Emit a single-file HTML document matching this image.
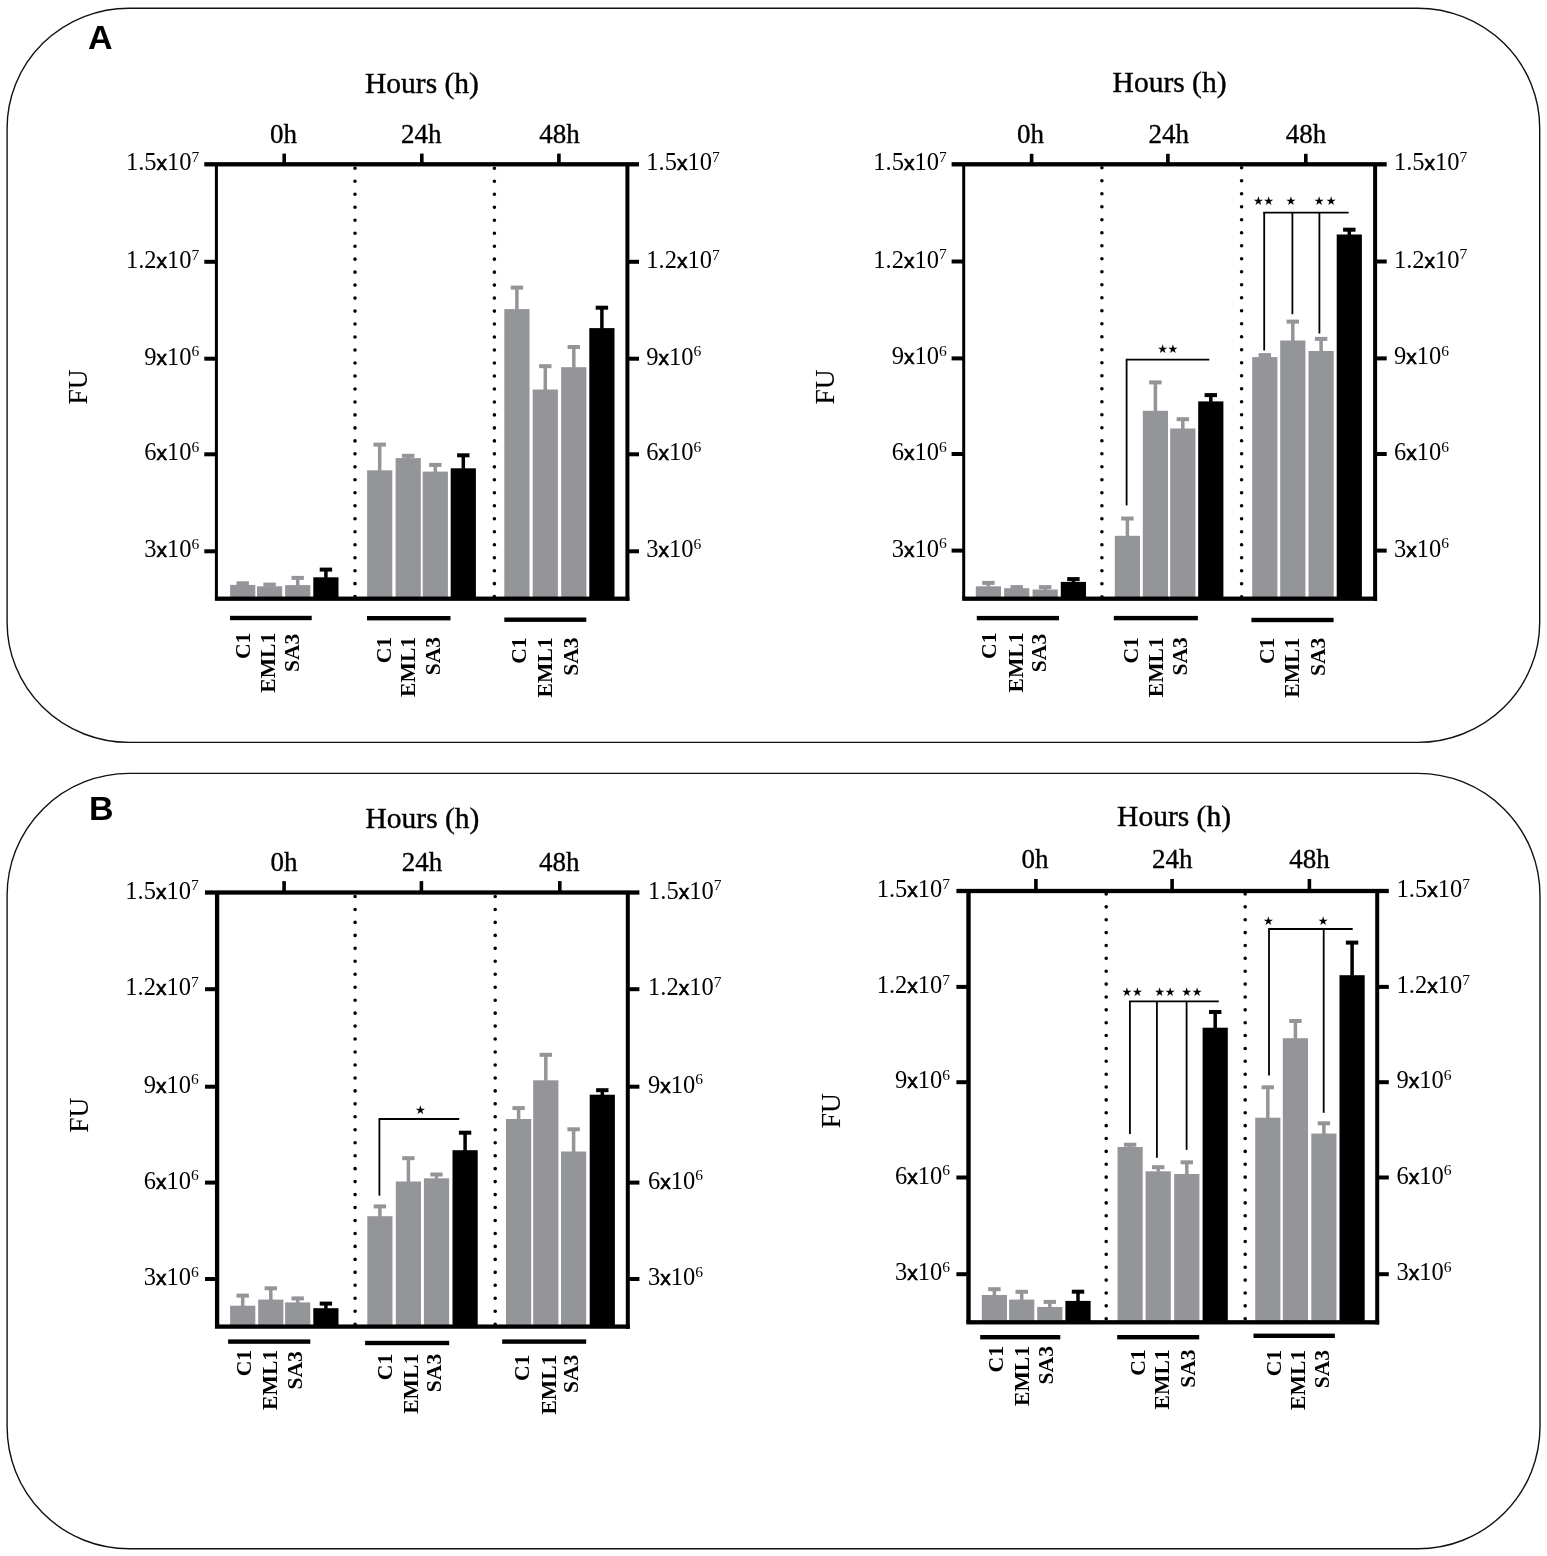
<!DOCTYPE html>
<html><head><meta charset="utf-8"><title>Figure</title><style>
html,body{margin:0;padding:0;background:#fff;}
body{width:1547px;height:1556px;overflow:hidden;}
svg{display:block;}
.tk{font-family:'Liberation Serif', 'Times New Roman', serif;font-size:24.5px;fill:#000;}
.xx{font-family:'Liberation Sans',Arial,sans-serif;font-size:21px;stroke:#000;stroke-width:0.6px;}
.hh{font-family:'Liberation Serif', 'Times New Roman', serif;font-size:27px;fill:#000;stroke:#000;stroke-width:0.35px;}
.ho{font-family:'Liberation Serif', 'Times New Roman', serif;font-size:29.5px;fill:#000;stroke:#000;stroke-width:0.4px;}
.fu{font-family:'Liberation Serif', 'Times New Roman', serif;font-size:27.5px;fill:#000;stroke:#000;stroke-width:0.1px;}
.gl{font-family:'Liberation Serif', 'Times New Roman', serif;font-size:21.6px;font-weight:bold;fill:#000;}
.pl{font-family:'Liberation Sans', Arial, sans-serif;font-size:34px;font-weight:bold;fill:#000;}
.st{font-family:'DejaVu Sans', sans-serif;font-size:12.0px;fill:#000;letter-spacing:0px;}
</style></head>
<body><svg width="1547" height="1556" viewBox="0 0 1547 1556">
<rect width="1547" height="1556" fill="#fff"/>
<rect x="7.1" y="8.2" width="1532.6" height="734.2" rx="122" ry="120" fill="none" stroke="#111" stroke-width="1.4"/>
<rect x="7.1" y="773.4" width="1532.9" height="775.4" rx="122" ry="122" fill="none" stroke="#111" stroke-width="1.4"/>
<text x="88" y="48.9" class="pl">A</text>
<text x="89" y="819.7" class="pl">B</text>
<line x1="355" y1="164.3" x2="355" y2="598.7" stroke="#000" stroke-width="3.6" stroke-linecap="round" stroke-dasharray="0 12.98" stroke-dashoffset="-4"/>
<line x1="494.4" y1="164.3" x2="494.4" y2="598.7" stroke="#000" stroke-width="3.6" stroke-linecap="round" stroke-dasharray="0 12.98" stroke-dashoffset="-4"/>
<rect x="230.1" y="584.9" width="25.2" height="13.8" fill="#949599"/>
<rect x="240.95" y="583.3" width="3.5" height="2.1" fill="#949599"/>
<rect x="236.5" y="581.3" width="12.4" height="4" fill="#949599"/>
<rect x="257" y="586.3" width="25.2" height="12.4" fill="#949599"/>
<rect x="267.85" y="584.6" width="3.5" height="2.2" fill="#949599"/>
<rect x="263.4" y="582.6" width="12.4" height="4" fill="#949599"/>
<rect x="285.1" y="585.1" width="25.2" height="13.6" fill="#949599"/>
<rect x="295.95" y="577.9" width="3.5" height="7.7" fill="#949599"/>
<rect x="291.5" y="575.9" width="12.4" height="4" fill="#949599"/>
<rect x="313.3" y="577.3" width="25.2" height="21.4" fill="#000"/>
<rect x="324.15" y="569.6" width="3.5" height="8.2" fill="#000"/>
<rect x="319.7" y="567.6" width="12.4" height="4" fill="#000"/>
<rect x="367.1" y="470.3" width="25.2" height="128.4" fill="#949599"/>
<rect x="377.95" y="444.6" width="3.5" height="26.2" fill="#949599"/>
<rect x="373.5" y="442.6" width="12.4" height="4" fill="#949599"/>
<rect x="395.6" y="458.1" width="25.2" height="140.6" fill="#949599"/>
<rect x="406.45" y="455.8" width="3.5" height="2.8" fill="#949599"/>
<rect x="402" y="453.8" width="12.4" height="4" fill="#949599"/>
<rect x="422.7" y="471.6" width="25.2" height="127.1" fill="#949599"/>
<rect x="433.55" y="464.9" width="3.5" height="7.2" fill="#949599"/>
<rect x="429.1" y="462.9" width="12.4" height="4" fill="#949599"/>
<rect x="450.7" y="468.3" width="25.2" height="130.4" fill="#000"/>
<rect x="461.55" y="455.3" width="3.5" height="13.5" fill="#000"/>
<rect x="457.1" y="453.3" width="12.4" height="4" fill="#000"/>
<rect x="504.3" y="309.1" width="25.2" height="289.6" fill="#949599"/>
<rect x="515.15" y="287.6" width="3.5" height="22" fill="#949599"/>
<rect x="510.7" y="285.6" width="12.4" height="4" fill="#949599"/>
<rect x="532.7" y="389.5" width="25.2" height="209.2" fill="#949599"/>
<rect x="543.55" y="366.2" width="3.5" height="23.8" fill="#949599"/>
<rect x="539.1" y="364.2" width="12.4" height="4" fill="#949599"/>
<rect x="561.2" y="367.2" width="25.2" height="231.5" fill="#949599"/>
<rect x="572.05" y="347" width="3.5" height="20.7" fill="#949599"/>
<rect x="567.6" y="345" width="12.4" height="4" fill="#949599"/>
<rect x="589.3" y="328.1" width="25.2" height="270.6" fill="#000"/>
<rect x="600.15" y="307.7" width="3.5" height="20.9" fill="#000"/>
<rect x="595.7" y="305.7" width="12.4" height="4" fill="#000"/>
<rect x="204.3" y="162.15" width="434.7" height="4.3" fill="#000"/>
<rect x="214.9" y="596.55" width="414.5" height="4.3" fill="#000"/>
<rect x="214.9" y="164.3" width="3" height="434.4" fill="#000"/>
<rect x="625.4" y="164.3" width="4" height="436.55" fill="#000"/>
<rect x="204.3" y="259.8" width="12.1" height="4" fill="#000"/>
<rect x="627.4" y="259.8" width="11.6" height="4" fill="#000"/>
<rect x="204.3" y="356.7" width="12.1" height="4" fill="#000"/>
<rect x="627.4" y="356.7" width="11.6" height="4" fill="#000"/>
<rect x="204.3" y="452.3" width="12.1" height="4" fill="#000"/>
<rect x="627.4" y="452.3" width="11.6" height="4" fill="#000"/>
<rect x="204.3" y="549.3" width="12.1" height="4" fill="#000"/>
<rect x="627.4" y="549.3" width="11.6" height="4" fill="#000"/>
<rect x="282.4" y="153.6" width="3.6" height="10.7" fill="#000"/>
<rect x="420" y="153.6" width="3.6" height="10.7" fill="#000"/>
<rect x="557.1" y="153.6" width="3.6" height="10.7" fill="#000"/>
<text transform="translate(199.3 170.1) scale(1 1)" text-anchor="end" class="tk">1.5<tspan class="xx">x</tspan>10<tspan dy="-8.3" font-size="15.5">7</tspan></text>
<text transform="translate(646.3 170.1) scale(1 1)" class="tk">1.5<tspan class="xx">x</tspan>10<tspan dy="-8.3" font-size="15.5">7</tspan></text>
<text transform="translate(199.3 267.8) scale(1 1)" text-anchor="end" class="tk">1.2<tspan class="xx">x</tspan>10<tspan dy="-8.3" font-size="15.5">7</tspan></text>
<text transform="translate(646.3 267.8) scale(1 1)" class="tk">1.2<tspan class="xx">x</tspan>10<tspan dy="-8.3" font-size="15.5">7</tspan></text>
<text transform="translate(199.3 364.7) scale(1 1)" text-anchor="end" class="tk">9<tspan class="xx">x</tspan>10<tspan dy="-8.3" font-size="15.5">6</tspan></text>
<text transform="translate(646.3 364.7) scale(1 1)" class="tk">9<tspan class="xx">x</tspan>10<tspan dy="-8.3" font-size="15.5">6</tspan></text>
<text transform="translate(199.3 460.3) scale(1 1)" text-anchor="end" class="tk">6<tspan class="xx">x</tspan>10<tspan dy="-8.3" font-size="15.5">6</tspan></text>
<text transform="translate(646.3 460.3) scale(1 1)" class="tk">6<tspan class="xx">x</tspan>10<tspan dy="-8.3" font-size="15.5">6</tspan></text>
<text transform="translate(199.3 557.3) scale(1 1)" text-anchor="end" class="tk">3<tspan class="xx">x</tspan>10<tspan dy="-8.3" font-size="15.5">6</tspan></text>
<text transform="translate(646.3 557.3) scale(1 1)" class="tk">3<tspan class="xx">x</tspan>10<tspan dy="-8.3" font-size="15.5">6</tspan></text>
<text x="283.4" y="143" text-anchor="middle" class="hh">0h</text>
<text x="421.3" y="143" text-anchor="middle" class="hh">24h</text>
<text x="559.4" y="143" text-anchor="middle" class="hh">48h</text>
<text x="365" y="92.5" class="ho">Hours (h)</text>
<text x="86.7" y="387" text-anchor="middle" class="fu" transform="rotate(-90 86.7 387)">FU</text>
<rect x="230" y="615.8" width="81.7" height="4.4" fill="#000"/>
<rect x="367" y="616" width="83.5" height="4.4" fill="#000"/>
<rect x="504.3" y="617.5" width="82" height="4.4" fill="#000"/>
<text x="249.6" y="632.7" text-anchor="end" class="gl" transform="rotate(-90 249.6 632.7)">C1</text>
<text x="274.7" y="632.7" text-anchor="end" class="gl" transform="rotate(-90 274.7 632.7)">EML1</text>
<text x="298.8" y="633.7" text-anchor="end" class="gl" transform="rotate(-90 298.8 633.7)">SA3</text>
<text x="391.2" y="636.9" text-anchor="end" class="gl" transform="rotate(-90 391.2 636.9)">C1</text>
<text x="415.4" y="636.9" text-anchor="end" class="gl" transform="rotate(-90 415.4 636.9)">EML1</text>
<text x="440.5" y="636.9" text-anchor="end" class="gl" transform="rotate(-90 440.5 636.9)">SA3</text>
<text x="526.5" y="637.4" text-anchor="end" class="gl" transform="rotate(-90 526.5 637.4)">C1</text>
<text x="552.3" y="637.4" text-anchor="end" class="gl" transform="rotate(-90 552.3 637.4)">EML1</text>
<text x="577.9" y="637.4" text-anchor="end" class="gl" transform="rotate(-90 577.9 637.4)">SA3</text>
<line x1="1101.9" y1="164.3" x2="1101.9" y2="598.7" stroke="#000" stroke-width="3.6" stroke-linecap="round" stroke-dasharray="0 13" stroke-dashoffset="-3.4"/>
<line x1="1241.6" y1="164.3" x2="1241.6" y2="598.7" stroke="#000" stroke-width="3.6" stroke-linecap="round" stroke-dasharray="0 13" stroke-dashoffset="-3.4"/>
<rect x="975.8" y="586.3" width="25.2" height="12.4" fill="#949599"/>
<rect x="986.65" y="582.9" width="3.5" height="3.9" fill="#949599"/>
<rect x="982.2" y="580.9" width="12.4" height="4" fill="#949599"/>
<rect x="1004.1" y="588.2" width="25.2" height="10.5" fill="#949599"/>
<rect x="1014.95" y="587.1" width="3.5" height="1.6" fill="#949599"/>
<rect x="1010.5" y="585.1" width="12.4" height="4" fill="#949599"/>
<rect x="1032.6" y="589.5" width="25.2" height="9.2" fill="#949599"/>
<rect x="1043.45" y="587.1" width="3.5" height="2.9" fill="#949599"/>
<rect x="1039" y="585.1" width="12.4" height="4" fill="#949599"/>
<rect x="1060.8" y="581.9" width="25.2" height="16.8" fill="#000"/>
<rect x="1071.65" y="579.1" width="3.5" height="3.3" fill="#000"/>
<rect x="1067.2" y="577.1" width="12.4" height="4" fill="#000"/>
<rect x="1114.8" y="535.8" width="25.2" height="62.9" fill="#949599"/>
<rect x="1125.65" y="518.5" width="3.5" height="17.8" fill="#949599"/>
<rect x="1121.2" y="516.5" width="12.4" height="4" fill="#949599"/>
<rect x="1142.8" y="410.8" width="25.2" height="187.9" fill="#949599"/>
<rect x="1153.65" y="382.4" width="3.5" height="28.9" fill="#949599"/>
<rect x="1149.2" y="380.4" width="12.4" height="4" fill="#949599"/>
<rect x="1170.2" y="428.5" width="25.2" height="170.2" fill="#949599"/>
<rect x="1181.05" y="419.2" width="3.5" height="9.8" fill="#949599"/>
<rect x="1176.6" y="417.2" width="12.4" height="4" fill="#949599"/>
<rect x="1198.2" y="401.4" width="25.2" height="197.3" fill="#000"/>
<rect x="1209.05" y="395.1" width="3.5" height="6.8" fill="#000"/>
<rect x="1204.6" y="393.1" width="12.4" height="4" fill="#000"/>
<rect x="1252.2" y="357.1" width="25.2" height="241.6" fill="#949599"/>
<rect x="1263.05" y="355.1" width="3.5" height="2.5" fill="#949599"/>
<rect x="1258.6" y="353.1" width="12.4" height="4" fill="#949599"/>
<rect x="1280.2" y="340.5" width="25.2" height="258.2" fill="#949599"/>
<rect x="1291.05" y="321.6" width="3.5" height="19.4" fill="#949599"/>
<rect x="1286.6" y="319.6" width="12.4" height="4" fill="#949599"/>
<rect x="1308.5" y="351" width="25.2" height="247.7" fill="#949599"/>
<rect x="1319.35" y="338.9" width="3.5" height="12.6" fill="#949599"/>
<rect x="1314.9" y="336.9" width="12.4" height="4" fill="#949599"/>
<rect x="1336.7" y="234.5" width="25.2" height="364.2" fill="#000"/>
<rect x="1347.55" y="229.7" width="3.5" height="5.3" fill="#000"/>
<rect x="1343.1" y="227.7" width="12.4" height="4" fill="#000"/>
<rect x="951.6" y="162.15" width="435.1" height="4.3" fill="#000"/>
<rect x="962.2" y="596.55" width="414.9" height="4.3" fill="#000"/>
<rect x="962.2" y="164.3" width="3" height="434.4" fill="#000"/>
<rect x="1373.1" y="164.3" width="4" height="436.55" fill="#000"/>
<rect x="951.6" y="259.5" width="12.1" height="4" fill="#000"/>
<rect x="1375.1" y="259.5" width="11.6" height="4" fill="#000"/>
<rect x="951.6" y="356.4" width="12.1" height="4" fill="#000"/>
<rect x="1375.1" y="356.4" width="11.6" height="4" fill="#000"/>
<rect x="951.6" y="452" width="12.1" height="4" fill="#000"/>
<rect x="1375.1" y="452" width="11.6" height="4" fill="#000"/>
<rect x="951.6" y="548.6" width="12.1" height="4" fill="#000"/>
<rect x="1375.1" y="548.6" width="11.6" height="4" fill="#000"/>
<rect x="1029.8" y="153.8" width="3.6" height="10.5" fill="#000"/>
<rect x="1166.1" y="153.8" width="3.6" height="10.5" fill="#000"/>
<rect x="1304" y="153.8" width="3.6" height="10.5" fill="#000"/>
<text transform="translate(946.7 170.1) scale(1 1)" text-anchor="end" class="tk">1.5<tspan class="xx">x</tspan>10<tspan dy="-8.3" font-size="15.5">7</tspan></text>
<text transform="translate(1393.9 170.1) scale(1 1)" class="tk">1.5<tspan class="xx">x</tspan>10<tspan dy="-8.3" font-size="15.5">7</tspan></text>
<text transform="translate(946.7 267.5) scale(1 1)" text-anchor="end" class="tk">1.2<tspan class="xx">x</tspan>10<tspan dy="-8.3" font-size="15.5">7</tspan></text>
<text transform="translate(1393.9 267.5) scale(1 1)" class="tk">1.2<tspan class="xx">x</tspan>10<tspan dy="-8.3" font-size="15.5">7</tspan></text>
<text transform="translate(946.7 364.4) scale(1 1)" text-anchor="end" class="tk">9<tspan class="xx">x</tspan>10<tspan dy="-8.3" font-size="15.5">6</tspan></text>
<text transform="translate(1393.9 364.4) scale(1 1)" class="tk">9<tspan class="xx">x</tspan>10<tspan dy="-8.3" font-size="15.5">6</tspan></text>
<text transform="translate(946.7 460) scale(1 1)" text-anchor="end" class="tk">6<tspan class="xx">x</tspan>10<tspan dy="-8.3" font-size="15.5">6</tspan></text>
<text transform="translate(1393.9 460) scale(1 1)" class="tk">6<tspan class="xx">x</tspan>10<tspan dy="-8.3" font-size="15.5">6</tspan></text>
<text transform="translate(946.7 556.6) scale(1 1)" text-anchor="end" class="tk">3<tspan class="xx">x</tspan>10<tspan dy="-8.3" font-size="15.5">6</tspan></text>
<text transform="translate(1393.9 556.6) scale(1 1)" class="tk">3<tspan class="xx">x</tspan>10<tspan dy="-8.3" font-size="15.5">6</tspan></text>
<text x="1030.4" y="143" text-anchor="middle" class="hh">0h</text>
<text x="1168.7" y="143" text-anchor="middle" class="hh">24h</text>
<text x="1306" y="143" text-anchor="middle" class="hh">48h</text>
<text x="1112.6" y="92" class="ho">Hours (h)</text>
<text x="834.1" y="387" text-anchor="middle" class="fu" transform="rotate(-90 834.1 387)">FU</text>
<rect x="976.8" y="615.9" width="82.2" height="4.4" fill="#000"/>
<rect x="1113.8" y="615.9" width="84.1" height="4.4" fill="#000"/>
<rect x="1251.4" y="617.8" width="82.2" height="4.4" fill="#000"/>
<text x="996.2" y="632.5" text-anchor="end" class="gl" transform="rotate(-90 996.2 632.5)">C1</text>
<text x="1022.8" y="632.5" text-anchor="end" class="gl" transform="rotate(-90 1022.8 632.5)">EML1</text>
<text x="1045.8" y="633.8" text-anchor="end" class="gl" transform="rotate(-90 1045.8 633.8)">SA3</text>
<text x="1138.4" y="637.2" text-anchor="end" class="gl" transform="rotate(-90 1138.4 637.2)">C1</text>
<text x="1163" y="637.2" text-anchor="end" class="gl" transform="rotate(-90 1163 637.2)">EML1</text>
<text x="1187.5" y="637.2" text-anchor="end" class="gl" transform="rotate(-90 1187.5 637.2)">SA3</text>
<text x="1274.2" y="637.7" text-anchor="end" class="gl" transform="rotate(-90 1274.2 637.7)">C1</text>
<text x="1299.2" y="637.7" text-anchor="end" class="gl" transform="rotate(-90 1299.2 637.7)">EML1</text>
<text x="1324.6" y="637.7" text-anchor="end" class="gl" transform="rotate(-90 1324.6 637.7)">SA3</text>
<line x1="1125.8" y1="359.7" x2="1209.3" y2="359.7" stroke="#000" stroke-width="1.8"/>
<line x1="1126.6" y1="359.7" x2="1126.6" y2="505.4" stroke="#000" stroke-width="1.8"/>
<text x="1162.7" y="352.92" text-anchor="middle" class="st">★</text>
<text x="1173" y="352.92" text-anchor="middle" class="st">★</text>
<line x1="1263.2" y1="212.6" x2="1348.6" y2="212.6" stroke="#000" stroke-width="1.8"/>
<line x1="1264.2" y1="212.6" x2="1264.2" y2="350.5" stroke="#000" stroke-width="1.8"/>
<line x1="1292.4" y1="212.6" x2="1292.4" y2="314.2" stroke="#000" stroke-width="1.8"/>
<line x1="1319.4" y1="212.6" x2="1319.4" y2="333.5" stroke="#000" stroke-width="1.8"/>
<text x="1258.3" y="205.02" text-anchor="middle" class="st">★</text>
<text x="1268.7" y="205.02" text-anchor="middle" class="st">★</text>
<text x="1290.9" y="205.02" text-anchor="middle" class="st">★</text>
<text x="1319.2" y="205.02" text-anchor="middle" class="st">★</text>
<text x="1331.1" y="205.02" text-anchor="middle" class="st">★</text>
<line x1="355.1" y1="892.5" x2="355.1" y2="1326.6" stroke="#000" stroke-width="3.6" stroke-linecap="round" stroke-dasharray="0 12.96" stroke-dashoffset="-4"/>
<line x1="495.2" y1="892.5" x2="495.2" y2="1326.6" stroke="#000" stroke-width="3.6" stroke-linecap="round" stroke-dasharray="0 12.96" stroke-dashoffset="-4"/>
<rect x="230.1" y="1305.7" width="25.2" height="20.9" fill="#949599"/>
<rect x="240.95" y="1295.6" width="3.5" height="10.6" fill="#949599"/>
<rect x="236.5" y="1293.6" width="12.4" height="4" fill="#949599"/>
<rect x="258.2" y="1299.6" width="25.2" height="27" fill="#949599"/>
<rect x="269.05" y="1288.3" width="3.5" height="11.8" fill="#949599"/>
<rect x="264.6" y="1286.3" width="12.4" height="4" fill="#949599"/>
<rect x="285.1" y="1302.4" width="25.2" height="24.2" fill="#949599"/>
<rect x="295.95" y="1298.4" width="3.5" height="4.5" fill="#949599"/>
<rect x="291.5" y="1296.4" width="12.4" height="4" fill="#949599"/>
<rect x="313.3" y="1308.2" width="25.2" height="18.4" fill="#000"/>
<rect x="324.15" y="1303.6" width="3.5" height="5.1" fill="#000"/>
<rect x="319.7" y="1301.6" width="12.4" height="4" fill="#000"/>
<rect x="367.3" y="1216.2" width="25.2" height="110.4" fill="#949599"/>
<rect x="378.15" y="1206.4" width="3.5" height="10.3" fill="#949599"/>
<rect x="373.7" y="1204.4" width="12.4" height="4" fill="#949599"/>
<rect x="395.8" y="1181.5" width="25.2" height="145.1" fill="#949599"/>
<rect x="406.65" y="1158.2" width="3.5" height="23.8" fill="#949599"/>
<rect x="402.2" y="1156.2" width="12.4" height="4" fill="#949599"/>
<rect x="423.9" y="1178.3" width="25.2" height="148.3" fill="#949599"/>
<rect x="434.75" y="1174.5" width="3.5" height="4.3" fill="#949599"/>
<rect x="430.3" y="1172.5" width="12.4" height="4" fill="#949599"/>
<rect x="452.5" y="1150.2" width="25.2" height="176.4" fill="#000"/>
<rect x="463.35" y="1132.7" width="3.5" height="18" fill="#000"/>
<rect x="458.9" y="1130.7" width="12.4" height="4" fill="#000"/>
<rect x="506" y="1119" width="25.2" height="207.6" fill="#949599"/>
<rect x="516.85" y="1108.1" width="3.5" height="11.4" fill="#949599"/>
<rect x="512.4" y="1106.1" width="12.4" height="4" fill="#949599"/>
<rect x="533.2" y="1080.3" width="25.2" height="246.3" fill="#949599"/>
<rect x="544.05" y="1054.8" width="3.5" height="26" fill="#949599"/>
<rect x="539.6" y="1052.8" width="12.4" height="4" fill="#949599"/>
<rect x="561" y="1151.5" width="25.2" height="175.1" fill="#949599"/>
<rect x="571.85" y="1129.3" width="3.5" height="22.7" fill="#949599"/>
<rect x="567.4" y="1127.3" width="12.4" height="4" fill="#949599"/>
<rect x="589.7" y="1094.7" width="25.2" height="231.9" fill="#000"/>
<rect x="600.55" y="1090.2" width="3.5" height="5" fill="#000"/>
<rect x="596.1" y="1088.2" width="12.4" height="4" fill="#000"/>
<rect x="205" y="890.35" width="434.4" height="4.3" fill="#000"/>
<rect x="214.95" y="1324.45" width="414.85" height="4.3" fill="#000"/>
<rect x="214.95" y="892.5" width="4.3" height="434.1" fill="#000"/>
<rect x="625.8" y="892.5" width="4" height="436.25" fill="#000"/>
<rect x="205" y="987.2" width="12.1" height="4" fill="#000"/>
<rect x="627.8" y="987.2" width="11.6" height="4" fill="#000"/>
<rect x="205" y="1084.7" width="12.1" height="4" fill="#000"/>
<rect x="627.8" y="1084.7" width="11.6" height="4" fill="#000"/>
<rect x="205" y="1180.6" width="12.1" height="4" fill="#000"/>
<rect x="627.8" y="1180.6" width="11.6" height="4" fill="#000"/>
<rect x="205" y="1277" width="12.1" height="4" fill="#000"/>
<rect x="627.8" y="1277" width="11.6" height="4" fill="#000"/>
<rect x="282.3" y="881.1" width="3.6" height="11.4" fill="#000"/>
<rect x="419.6" y="881.1" width="3.6" height="11.4" fill="#000"/>
<rect x="558" y="881.1" width="3.6" height="11.4" fill="#000"/>
<text transform="translate(198.7 898.7) scale(1 1)" text-anchor="end" class="tk">1.5<tspan class="xx">x</tspan>10<tspan dy="-8.3" font-size="15.5">7</tspan></text>
<text transform="translate(648 898.7) scale(1 1)" class="tk">1.5<tspan class="xx">x</tspan>10<tspan dy="-8.3" font-size="15.5">7</tspan></text>
<text transform="translate(198.7 995.2) scale(1 1)" text-anchor="end" class="tk">1.2<tspan class="xx">x</tspan>10<tspan dy="-8.3" font-size="15.5">7</tspan></text>
<text transform="translate(648 995.2) scale(1 1)" class="tk">1.2<tspan class="xx">x</tspan>10<tspan dy="-8.3" font-size="15.5">7</tspan></text>
<text transform="translate(198.7 1092.7) scale(1 1)" text-anchor="end" class="tk">9<tspan class="xx">x</tspan>10<tspan dy="-8.3" font-size="15.5">6</tspan></text>
<text transform="translate(648 1092.7) scale(1 1)" class="tk">9<tspan class="xx">x</tspan>10<tspan dy="-8.3" font-size="15.5">6</tspan></text>
<text transform="translate(198.7 1188.6) scale(1 1)" text-anchor="end" class="tk">6<tspan class="xx">x</tspan>10<tspan dy="-8.3" font-size="15.5">6</tspan></text>
<text transform="translate(648 1188.6) scale(1 1)" class="tk">6<tspan class="xx">x</tspan>10<tspan dy="-8.3" font-size="15.5">6</tspan></text>
<text transform="translate(198.7 1285) scale(1 1)" text-anchor="end" class="tk">3<tspan class="xx">x</tspan>10<tspan dy="-8.3" font-size="15.5">6</tspan></text>
<text transform="translate(648 1285) scale(1 1)" class="tk">3<tspan class="xx">x</tspan>10<tspan dy="-8.3" font-size="15.5">6</tspan></text>
<text x="284" y="870.5" text-anchor="middle" class="hh">0h</text>
<text x="421.9" y="870.5" text-anchor="middle" class="hh">24h</text>
<text x="559.2" y="870.5" text-anchor="middle" class="hh">48h</text>
<text x="365.5" y="827.8" class="ho">Hours (h)</text>
<text x="88.4" y="1115.2" text-anchor="middle" class="fu" transform="rotate(-90 88.4 1115.2)">FU</text>
<rect x="228.1" y="1339.4" width="82.2" height="4.4" fill="#000"/>
<rect x="365.1" y="1340.8" width="84.1" height="4.4" fill="#000"/>
<rect x="502.2" y="1339.4" width="84" height="4.4" fill="#000"/>
<text x="251.4" y="1349.9" text-anchor="end" class="gl" transform="rotate(-90 251.4 1349.9)">C1</text>
<text x="276.7" y="1349.9" text-anchor="end" class="gl" transform="rotate(-90 276.7 1349.9)">EML1</text>
<text x="301.8" y="1351.2" text-anchor="end" class="gl" transform="rotate(-90 301.8 1351.2)">SA3</text>
<text x="392.3" y="1353.8" text-anchor="end" class="gl" transform="rotate(-90 392.3 1353.8)">C1</text>
<text x="418.1" y="1353.8" text-anchor="end" class="gl" transform="rotate(-90 418.1 1353.8)">EML1</text>
<text x="441.4" y="1353.8" text-anchor="end" class="gl" transform="rotate(-90 441.4 1353.8)">SA3</text>
<text x="528.6" y="1354.6" text-anchor="end" class="gl" transform="rotate(-90 528.6 1354.6)">C1</text>
<text x="556" y="1354.6" text-anchor="end" class="gl" transform="rotate(-90 556 1354.6)">EML1</text>
<text x="578.5" y="1354.6" text-anchor="end" class="gl" transform="rotate(-90 578.5 1354.6)">SA3</text>
<line x1="378.6" y1="1119" x2="459.2" y2="1119" stroke="#000" stroke-width="1.8"/>
<line x1="379.4" y1="1119" x2="379.4" y2="1195.7" stroke="#000" stroke-width="1.8"/>
<text x="420.3" y="1114.02" text-anchor="middle" class="st">★</text>
<line x1="1106.2" y1="891" x2="1106.2" y2="1322.3" stroke="#000" stroke-width="3.6" stroke-linecap="round" stroke-dasharray="0 12.87" stroke-dashoffset="-3"/>
<line x1="1245.2" y1="891" x2="1245.2" y2="1322.3" stroke="#000" stroke-width="3.6" stroke-linecap="round" stroke-dasharray="0 12.87" stroke-dashoffset="-3"/>
<rect x="981.8" y="1295" width="25.2" height="27.3" fill="#949599"/>
<rect x="992.65" y="1289.2" width="3.5" height="6.3" fill="#949599"/>
<rect x="988.2" y="1287.2" width="12.4" height="4" fill="#949599"/>
<rect x="1009.1" y="1299.6" width="25.2" height="22.7" fill="#949599"/>
<rect x="1019.95" y="1291.8" width="3.5" height="8.3" fill="#949599"/>
<rect x="1015.5" y="1289.8" width="12.4" height="4" fill="#949599"/>
<rect x="1037.2" y="1307" width="25.2" height="15.3" fill="#949599"/>
<rect x="1048.05" y="1301.9" width="3.5" height="5.6" fill="#949599"/>
<rect x="1043.6" y="1299.9" width="12.4" height="4" fill="#949599"/>
<rect x="1065.4" y="1300.9" width="25.2" height="21.4" fill="#000"/>
<rect x="1076.25" y="1291.7" width="3.5" height="9.7" fill="#000"/>
<rect x="1071.8" y="1289.7" width="12.4" height="4" fill="#000"/>
<rect x="1117.5" y="1147" width="25.2" height="175.3" fill="#949599"/>
<rect x="1128.35" y="1144.7" width="3.5" height="2.8" fill="#949599"/>
<rect x="1123.9" y="1142.7" width="12.4" height="4" fill="#949599"/>
<rect x="1145.6" y="1171.3" width="25.2" height="151" fill="#949599"/>
<rect x="1156.45" y="1167.2" width="3.5" height="4.6" fill="#949599"/>
<rect x="1152" y="1165.2" width="12.4" height="4" fill="#949599"/>
<rect x="1174.2" y="1174" width="25.2" height="148.3" fill="#949599"/>
<rect x="1185.05" y="1162.3" width="3.5" height="12.2" fill="#949599"/>
<rect x="1180.6" y="1160.3" width="12.4" height="4" fill="#949599"/>
<rect x="1202.6" y="1027.7" width="25.2" height="294.6" fill="#000"/>
<rect x="1213.45" y="1012" width="3.5" height="16.2" fill="#000"/>
<rect x="1209" y="1010" width="12.4" height="4" fill="#000"/>
<rect x="1255.2" y="1117.7" width="25.2" height="204.6" fill="#949599"/>
<rect x="1266.05" y="1087.3" width="3.5" height="30.9" fill="#949599"/>
<rect x="1261.6" y="1085.3" width="12.4" height="4" fill="#949599"/>
<rect x="1282.8" y="1038.2" width="25.2" height="284.1" fill="#949599"/>
<rect x="1293.65" y="1021" width="3.5" height="17.7" fill="#949599"/>
<rect x="1289.2" y="1019" width="12.4" height="4" fill="#949599"/>
<rect x="1311.3" y="1133.5" width="25.2" height="188.8" fill="#949599"/>
<rect x="1322.15" y="1123.3" width="3.5" height="10.7" fill="#949599"/>
<rect x="1317.7" y="1121.3" width="12.4" height="4" fill="#949599"/>
<rect x="1339.5" y="975.2" width="25.2" height="347.1" fill="#000"/>
<rect x="1350.35" y="942.6" width="3.5" height="33.1" fill="#000"/>
<rect x="1345.9" y="940.6" width="12.4" height="4" fill="#000"/>
<rect x="956.4" y="888.85" width="432.4" height="4.3" fill="#000"/>
<rect x="966.3" y="1320.15" width="412.9" height="4.3" fill="#000"/>
<rect x="966.3" y="891" width="4.4" height="431.3" fill="#000"/>
<rect x="1375.2" y="891" width="4" height="433.45" fill="#000"/>
<rect x="956.4" y="984.9" width="12.1" height="4" fill="#000"/>
<rect x="1377.2" y="984.9" width="11.6" height="4" fill="#000"/>
<rect x="956.4" y="1080.2" width="12.1" height="4" fill="#000"/>
<rect x="1377.2" y="1080.2" width="11.6" height="4" fill="#000"/>
<rect x="956.4" y="1175.5" width="12.1" height="4" fill="#000"/>
<rect x="1377.2" y="1175.5" width="11.6" height="4" fill="#000"/>
<rect x="956.4" y="1272.2" width="12.1" height="4" fill="#000"/>
<rect x="1377.2" y="1272.2" width="11.6" height="4" fill="#000"/>
<rect x="1034.1" y="879" width="3.6" height="12" fill="#000"/>
<rect x="1170.3" y="879" width="3.6" height="12" fill="#000"/>
<rect x="1307.6" y="879" width="3.6" height="12" fill="#000"/>
<text transform="translate(950 897) scale(1 1)" text-anchor="end" class="tk">1.5<tspan class="xx">x</tspan>10<tspan dy="-8.3" font-size="15.5">7</tspan></text>
<text transform="translate(1396.6 897) scale(1 1)" class="tk">1.5<tspan class="xx">x</tspan>10<tspan dy="-8.3" font-size="15.5">7</tspan></text>
<text transform="translate(950 992.9) scale(1 1)" text-anchor="end" class="tk">1.2<tspan class="xx">x</tspan>10<tspan dy="-8.3" font-size="15.5">7</tspan></text>
<text transform="translate(1396.6 992.9) scale(1 1)" class="tk">1.2<tspan class="xx">x</tspan>10<tspan dy="-8.3" font-size="15.5">7</tspan></text>
<text transform="translate(950 1088.2) scale(1 1)" text-anchor="end" class="tk">9<tspan class="xx">x</tspan>10<tspan dy="-8.3" font-size="15.5">6</tspan></text>
<text transform="translate(1396.6 1088.2) scale(1 1)" class="tk">9<tspan class="xx">x</tspan>10<tspan dy="-8.3" font-size="15.5">6</tspan></text>
<text transform="translate(950 1183.5) scale(1 1)" text-anchor="end" class="tk">6<tspan class="xx">x</tspan>10<tspan dy="-8.3" font-size="15.5">6</tspan></text>
<text transform="translate(1396.6 1183.5) scale(1 1)" class="tk">6<tspan class="xx">x</tspan>10<tspan dy="-8.3" font-size="15.5">6</tspan></text>
<text transform="translate(950 1280.2) scale(1 1)" text-anchor="end" class="tk">3<tspan class="xx">x</tspan>10<tspan dy="-8.3" font-size="15.5">6</tspan></text>
<text transform="translate(1396.6 1280.2) scale(1 1)" class="tk">3<tspan class="xx">x</tspan>10<tspan dy="-8.3" font-size="15.5">6</tspan></text>
<text x="1035.1" y="868" text-anchor="middle" class="hh">0h</text>
<text x="1172.2" y="868" text-anchor="middle" class="hh">24h</text>
<text x="1309.4" y="868" text-anchor="middle" class="hh">48h</text>
<text x="1117.1" y="826.3" class="ho">Hours (h)</text>
<text x="840.1" y="1110.6" text-anchor="middle" class="fu" transform="rotate(-90 840.1 1110.6)">FU</text>
<rect x="980.2" y="1335" width="80.1" height="4.4" fill="#000"/>
<rect x="1117.2" y="1335" width="82" height="4.4" fill="#000"/>
<rect x="1253.5" y="1333.6" width="81.4" height="4.4" fill="#000"/>
<text x="1002.7" y="1346" text-anchor="end" class="gl" transform="rotate(-90 1002.7 1346)">C1</text>
<text x="1029.3" y="1346" text-anchor="end" class="gl" transform="rotate(-90 1029.3 1346)">EML1</text>
<text x="1052.6" y="1346" text-anchor="end" class="gl" transform="rotate(-90 1052.6 1346)">SA3</text>
<text x="1144.9" y="1349.4" text-anchor="end" class="gl" transform="rotate(-90 1144.9 1349.4)">C1</text>
<text x="1168.9" y="1349.4" text-anchor="end" class="gl" transform="rotate(-90 1168.9 1349.4)">EML1</text>
<text x="1194.8" y="1349.4" text-anchor="end" class="gl" transform="rotate(-90 1194.8 1349.4)">SA3</text>
<text x="1280.6" y="1349.9" text-anchor="end" class="gl" transform="rotate(-90 1280.6 1349.9)">C1</text>
<text x="1305.2" y="1349.9" text-anchor="end" class="gl" transform="rotate(-90 1305.2 1349.9)">EML1</text>
<text x="1329.2" y="1349.9" text-anchor="end" class="gl" transform="rotate(-90 1329.2 1349.9)">SA3</text>
<line x1="1129.1" y1="1001.4" x2="1218.8" y2="1001.4" stroke="#000" stroke-width="1.8"/>
<line x1="1129.9" y1="1001.4" x2="1129.9" y2="1134.1" stroke="#000" stroke-width="1.8"/>
<line x1="1156.9" y1="1001.4" x2="1156.9" y2="1157.8" stroke="#000" stroke-width="1.8"/>
<line x1="1186.6" y1="1001.4" x2="1186.6" y2="1149.9" stroke="#000" stroke-width="1.8"/>
<text x="1127" y="995.92" text-anchor="middle" class="st">★</text>
<text x="1137.3" y="995.92" text-anchor="middle" class="st">★</text>
<text x="1159.7" y="995.92" text-anchor="middle" class="st">★</text>
<text x="1170.1" y="995.92" text-anchor="middle" class="st">★</text>
<text x="1186.7" y="995.92" text-anchor="middle" class="st">★</text>
<text x="1197.1" y="995.92" text-anchor="middle" class="st">★</text>
<line x1="1268.2" y1="929" x2="1352.7" y2="929" stroke="#000" stroke-width="1.8"/>
<line x1="1269" y1="929" x2="1269" y2="1075.5" stroke="#000" stroke-width="1.8"/>
<line x1="1323.7" y1="929" x2="1323.7" y2="1112.8" stroke="#000" stroke-width="1.8"/>
<text x="1268.4" y="925.12" text-anchor="middle" class="st">★</text>
<text x="1323.2" y="925.12" text-anchor="middle" class="st">★</text>
</svg></body></html>
